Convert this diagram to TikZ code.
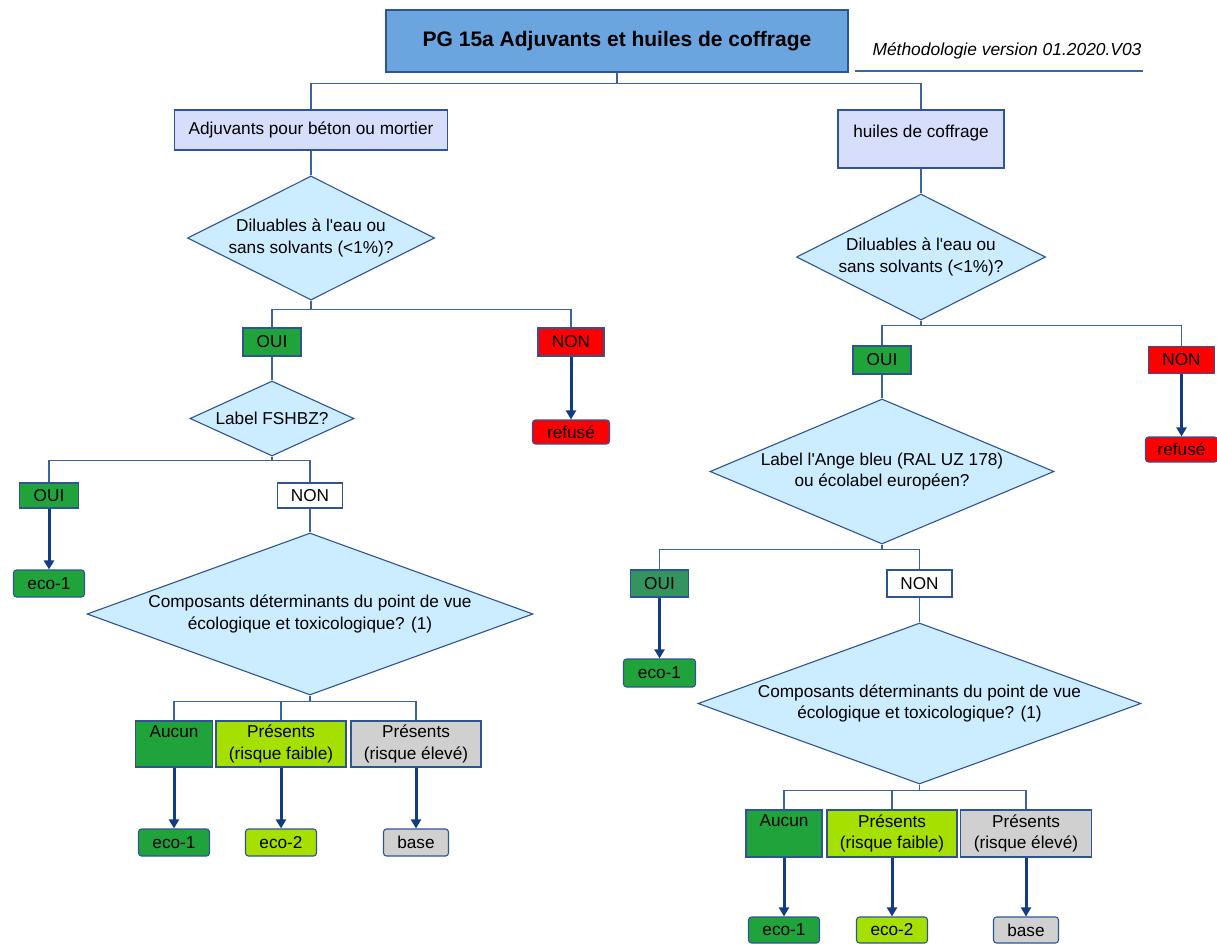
\documentclass[tikz,border=0pt]{standalone}
\usepackage{fontspec}
\setmainfont{Liberation Sans}[Ligatures=TeXOff]
\usetikzlibrary{arrows.meta}
\usetikzlibrary{shapes.geometric}
\definecolor{frame}{RGB}{47,84,150}
\definecolor{wire}{RGB}{60,100,160}
\definecolor{navy}{RGB}{20,60,130}
\definecolor{titleblue}{RGB}{106,165,224}
\definecolor{lav}{RGB}{214,222,252}
\definecolor{cyanlt}{RGB}{204,236,255}
\definecolor{okgreen}{RGB}{33,163,60}
\definecolor{seagreen}{RGB}{52,148,95}
\definecolor{lime}{RGB}{166,224,0}
\definecolor{greybox}{RGB}{208,208,208}

\begin{document}
\begin{tikzpicture}[x=1pt,y=-1pt,
	every node/.style={font=\fontsize{17.2}{21.5}\selectfont, align=center, inner sep=0pt},
	sz/.style 2 args={minimum width=#1, minimum height=#2},
	box/.style={draw=frame, line width=1.1pt},
	result/.style={box, rounded corners=3pt},
	dia/.style={diamond, draw=frame, fill=cyanlt, line width=1.1pt},
	conn/.style={draw=wire, line width=1.1pt},
	arr/.style={draw=navy, line width=3pt, -{Triangle[length=9pt,width=10pt]}}]
	\useasboundingbox (0,0) rectangle (1217,944);

	\node[box, fill=titleblue, sz={462}{62}, font=\fontsize{21}{25}\selectfont\bfseries] (title) at (617,41) {PG 15a Adjuvants et huiles de coffrage};
	\node[font=\fontsize{17.4}{21}\selectfont\itshape] (methodo) at (1007,51) {Méthodologie version 01.2020.V03};
	\draw[conn] (855,71) -- (1143,71);

	% adjuvants
	\node[box, fill=lav, sz={273}{40}] (cat1) at (311,130) {Adjuvants pour béton ou mortier};
	\node[dia, sz={247}{124}, label={center:{Diluables à l'eau ou\\sans solvants (<1\%)?}}] (dL1) at (311,238) {};
	\node[box, fill=okgreen, sz={58}{28}] (ouiL1) at (272,342) {OUI};
	\node[box, fill=red, sz={66}{28}] (nonL1) at (571,342) {NON};
	\node[result, fill=red, sz={77}{24}] (refL) at (571,432) {refusé};
	\node[dia, sz={164}{75}, label={center:{Label FSHBZ?}}] (dL2) at (272,418.5) {};
	\node[box, fill=okgreen, sz={59}{25}] (ouiL2) at (49,495.5) {OUI};
	\node[box, fill=white, sz={65}{25}] (nonL2) at (310,495.5) {NON};
	\node[result, fill=okgreen, sz={71}{27}] (ecoL0) at (49,583.5) {eco-1};
	\node[dia, sz={446}{162}, label={center:{Composants déterminants du point de vue\\écologique et toxicologique? (1)}}] (dL3) at (310,614) {};
	\node[box, fill=okgreen, sz={77}{46}] (aucL) at (174,744) {Aucun\\\phantom{(}};
	\node[box, fill=lime, sz={130}{46}] (faiL) at (281,744) {Présents\\(risque faible)};
	\node[box, fill=greybox, sz={130}{46}] (eleL) at (416,744) {Présents\\(risque élevé)};
	\node[result, fill=okgreen, sz={71}{27}] (eco1L) at (174,842.5) {eco-1};
	\node[result, fill=lime, sz={71}{27}] (eco2L) at (281,842.5) {eco-2};
	\node[result, fill=greybox, sz={65}{27}] (baseL) at (416,842.5) {base};

	% huiles
	\node[box, fill=lav, sz={166}{58}] (cat2) at (921,139) {\raisebox{16pt}{huiles de coffrage}};
	\node[dia, sz={249}{126}, label={center:{Diluables à l'eau ou\\sans solvants (<1\%)?}}] (dR1) at (921,257) {};
	\node[box, fill=okgreen, sz={58}{28}] (ouiR1) at (882,360) {OUI};
	\node[box, fill=red, sz={66}{27}] (nonR1) at (1181.5,360) {NON};
	\node[result, fill=red, sz={72}{25}] (refR) at (1181.5,449.5) {refusé};
	\node[dia, sz={344}{145}, label={center:{Label l'Ange bleu (RAL UZ 178)\\ou écolabel européen?}}] (dR2) at (882,471.5) {};
	\node[box, fill=seagreen, sz={58}{27}] (ouiR2) at (659.5,583.5) {OUI};
	\node[box, fill=white, sz={65}{27}] (nonR2) at (919.5,583.5) {NON};
	\node[result, fill=okgreen, sz={72}{28}] (ecoR0) at (659.5,673) {eco-1};
	\node[dia, sz={443}{161}, label={center:{Composants déterminants du point de vue\\écologique et toxicologique? (1)}}] (dR3) at (919.5,703.5) {};
	\node[box, fill=okgreen, sz={76}{47}] (aucR) at (784,833.5) {Aucun\\\phantom{(}};
	\node[box, fill=lime, sz={130}{47}] (faiR) at (892,833.5) {Présents\\(risque faible)};
	\node[box, fill=greybox, sz={131}{47}] (eleR) at (1026,833.5) {Présents\\(risque élevé)};
	\node[result, fill=okgreen, sz={71}{26}] (eco1R) at (784,930) {eco-1};
	\node[result, fill=lime, sz={71}{26}] (eco2R) at (892,930) {eco-2};
	\node[result, fill=greybox, sz={65}{26}] (baseR) at (1026,930) {base};

	\draw[conn] (title.south) -- ++(0,11) -| (cat1.north);
	\draw[conn] (title.south) -- ++(0,11) -| (cat2.north);

	\draw[conn] (cat1.south) -- (dL1.north);
	\draw[conn] (dL1.south) -- ++(0,9) -| (ouiL1.north);
	\draw[conn] (dL1.south) -- ++(0,9) -| (nonL1.north);
	\draw[arr] (nonL1.south) -- (refL.north);
	\draw[conn] (ouiL1.south) -- (dL2.north);
	\draw[conn] (dL2.south) -- ++(0,4) -| (ouiL2.north);
	\draw[conn] (dL2.south) -- ++(0,4) -| (nonL2.north);
	\draw[arr] (ouiL2.south) -- (ecoL0.north);
	\draw[conn] (nonL2.south) -- (dL3.north);
	\draw[conn] (dL3.south) -- ++(0,6) -| (aucL.north);
	\draw[conn] (dL3.south) -- ++(0,6) -| (faiL.north);
	\draw[conn] (dL3.south) -- ++(0,6) -| (eleL.north);
	\draw[arr] (aucL.south) -- (eco1L.north);
	\draw[arr] (faiL.south) -- (eco2L.north);
	\draw[arr] (eleL.south) -- (baseL.north);

	\draw[conn] (cat2.south) -- (dR1.north);
	\draw[conn] (dR1.south) -- ++(0,5) -| (ouiR1.north);
	\draw[conn] (dR1.south) -- ++(0,5) -| (nonR1.north);
	\draw[arr] (nonR1.south) -- (refR.north);
	\draw[conn] (ouiR1.south) -- (dR2.north);
	\draw[conn] (dR2.south) -- ++(0,5) -| (ouiR2.north);
	\draw[conn] (dR2.south) -- ++(0,5) -| (nonR2.north);
	\draw[arr] (ouiR2.south) -- (ecoR0.north);
	\draw[conn] (nonR2.south) -- (dR3.north);
	\draw[conn] (dR3.south) -- ++(0,6) -| (aucR.north);
	\draw[conn] (dR3.south) -- ++(0,6) -| (faiR.north);
	\draw[conn] (dR3.south) -- ++(0,6) -| (eleR.north);
	\draw[arr] (aucR.south) -- (eco1R.north);
	\draw[arr] (faiR.south) -- (eco2R.north);
	\draw[arr] (eleR.south) -- (baseR.north);
\end{tikzpicture}
\end{document}
